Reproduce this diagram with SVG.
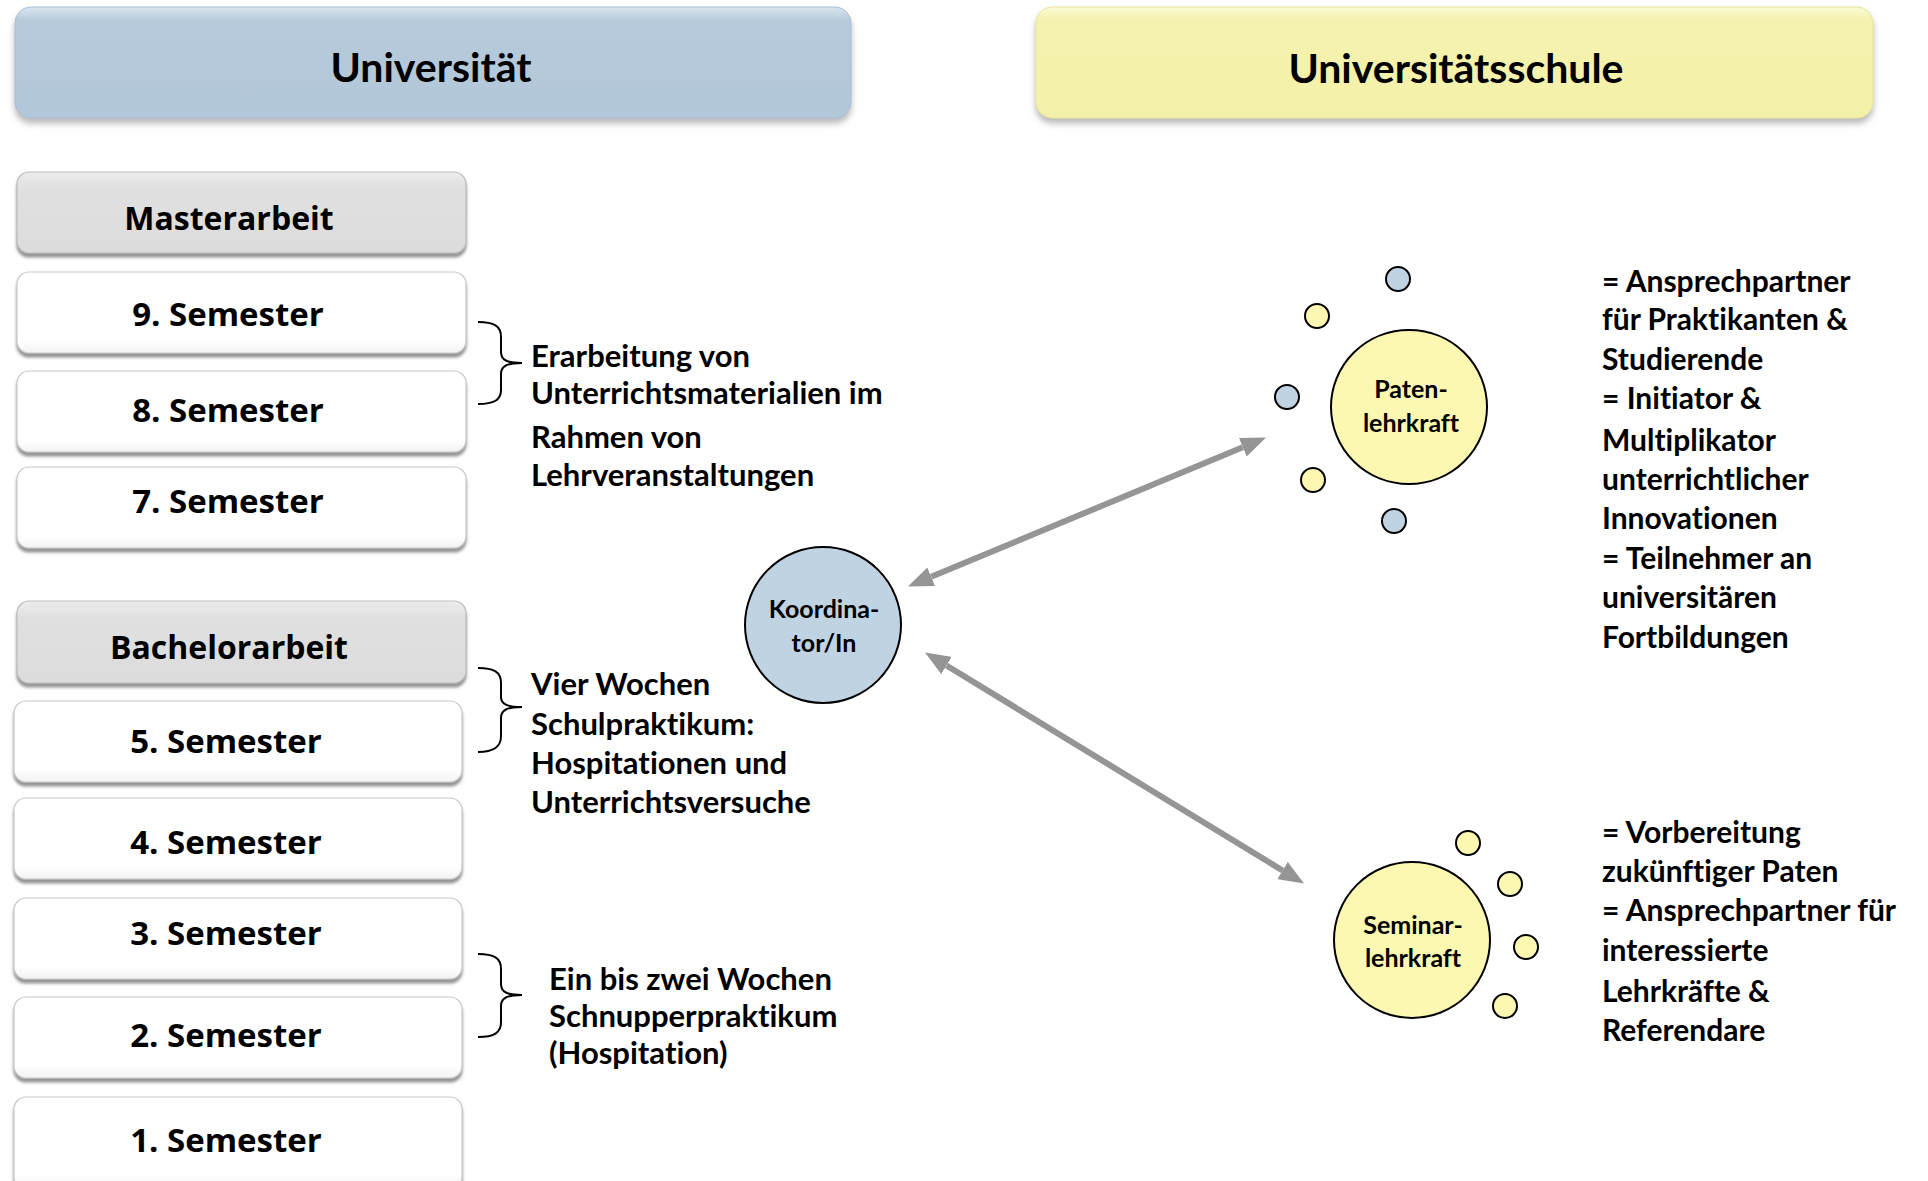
<svg xmlns="http://www.w3.org/2000/svg" width="1928" height="1181" viewBox="0 0 1928 1181">
<style>
text{font-variant-ligatures:none}
.box{fill:url(#gWhite);stroke:#c9c9c9;stroke-width:1.2;filter:url(#shBox)}
.gbox{fill:url(#gGray);stroke:#bdbdbd;stroke-width:1.2;filter:url(#shBox)}
.bt{font-family:"Open Sans","DejaVu Sans",sans-serif;font-weight:700;font-size:33px;fill:#000;text-anchor:middle}
.bt2{font-family:"Open Sans","DejaVu Sans",sans-serif;font-weight:700;font-size:32px;fill:#000;text-anchor:middle}
.ht{font-family:Lato,"Liberation Sans",sans-serif;font-weight:700;font-size:41px;fill:#000;text-anchor:middle}
.tx{font-family:Lato,"Liberation Sans",sans-serif;font-weight:700;font-size:31px;fill:#000}
.rx{font-family:Lato,"Liberation Sans",sans-serif;font-weight:700;font-size:30px;fill:#000}
.ct{font-family:Lato,"Liberation Sans",sans-serif;font-weight:700;font-size:25px;fill:#000;text-anchor:middle}
.brace{fill:none;stroke:#000;stroke-width:2}
.blue{fill:#c0d3e3;stroke:#000;stroke-width:2}
.yel{fill:#fcf8b2;stroke:#000;stroke-width:2}
.conn{stroke:#959595;stroke-width:6;fill:none;marker-start:url(#ah);marker-end:url(#ah)}
</style>
<defs>
<linearGradient id="gWhite" x1="0" y1="0" x2="0" y2="1">
<stop offset="0" stop-color="#ffffff"/><stop offset="0.85" stop-color="#ffffff"/><stop offset="1" stop-color="#f2f2f2"/>
</linearGradient>
<linearGradient id="gGray" x1="0" y1="0" x2="0" y2="1">
<stop offset="0" stop-color="#ececec"/><stop offset="0.2" stop-color="#e0e0e0"/><stop offset="1" stop-color="#dcdcdc"/>
</linearGradient>
<linearGradient id="gBlue" x1="0" y1="0" x2="0" y2="1">
<stop offset="0" stop-color="#dae6f0"/><stop offset="0.12" stop-color="#b6cadb"/><stop offset="1" stop-color="#b2c7d9"/>
</linearGradient>
<linearGradient id="gYel" x1="0" y1="0" x2="0" y2="1">
<stop offset="0" stop-color="#fbfbd6"/><stop offset="0.12" stop-color="#f4f2ad"/><stop offset="1" stop-color="#f3f1a9"/>
</linearGradient>
<filter id="shBox" x="-5%" y="-10%" width="110%" height="130%">
<feDropShadow dx="0" dy="4" stdDeviation="1.6" flood-color="#707070" flood-opacity="0.75"/>
</filter>
<filter id="shHead" x="-5%" y="-10%" width="110%" height="130%">
<feDropShadow dx="0" dy="5" stdDeviation="3" flood-color="#8a8a8a" flood-opacity="0.6"/>
</filter>
<marker id="ah" viewBox="0 0 10 8" refX="0" refY="4" markerWidth="4.2" markerHeight="3.4" orient="auto-start-reverse" markerUnits="strokeWidth">
<path d="M0,0 L10,4 L0,8 Z" fill="#959595"/>
</marker>
</defs>

<g id="header-universitaet">
<rect x="15" y="7" width="836" height="111" rx="16" fill="url(#gBlue)" stroke="#a9bfd2" stroke-width="1" filter="url(#shHead)"/>
<text class="ht" x="431" y="82">Universität</text>
</g>
<g id="header-universitaetsschule">
<rect x="1036" y="7" width="837" height="111" rx="16" fill="url(#gYel)" stroke="#e6e49c" stroke-width="1" filter="url(#shHead)"/>
<text class="ht" x="1456" y="83">Universitätsschule</text>
</g>

<g id="masterarbeit"><rect class="gbox" x="17" y="172" width="449" height="81" rx="12"/><text class="bt2" x="229" y="230">Masterarbeit</text></g>
<g id="semester-9"><rect class="box" x="17" y="272" width="449" height="81" rx="12"/><text class="bt" x="228" y="326">9. Semester</text></g>
<g id="semester-8"><rect class="box" x="17" y="371" width="449" height="81" rx="12"/><text class="bt" x="228" y="422">8. Semester</text></g>
<g id="semester-7"><rect class="box" x="17" y="467" width="449" height="81" rx="12"/><text class="bt" x="228" y="513">7. Semester</text></g>
<g id="bachelorarbeit"><rect class="gbox" x="17" y="601" width="449" height="82" rx="12"/><text class="bt2" x="229" y="659">Bachelorarbeit</text></g>
<g id="semester-5"><rect class="box" x="14" y="701" width="448" height="81" rx="12"/><text class="bt" x="226" y="753">5. Semester</text></g>
<g id="semester-4"><rect class="box" x="14" y="798" width="448" height="81" rx="12"/><text class="bt" x="226" y="854">4. Semester</text></g>
<g id="semester-3"><rect class="box" x="14" y="898" width="448" height="81" rx="12"/><text class="bt" x="226" y="945">3. Semester</text></g>
<g id="semester-2"><rect class="box" x="14" y="997" width="448" height="81" rx="12"/><text class="bt" x="226" y="1047">2. Semester</text></g>
<g id="semester-1"><rect class="box" x="14" y="1097" width="448" height="92" rx="12"/><text class="bt" x="226" y="1152">1. Semester</text></g>

<g id="note-erarbeitung">
<path class="brace" d="M478,322 C494,322 501,326 501,337 L501,352 C501,360 507,363 522,363 C507,363 501,366 501,374 L501,390 C501,400 494,404 478,404"/>
<text class="tx" x="531" y="367">Erarbeitung von</text>
<text class="tx" x="531" y="404">Unterrichtsmaterialien im</text>
<text class="tx" x="531" y="448">Rahmen von</text>
<text class="tx" x="531" y="486">Lehrveranstaltungen</text>
</g>
<g id="note-schulpraktikum">
<path class="brace" d="M478,668 C494,668 501,672 501,683 L501,697 C501,704 507,707 522,707 C507,707 501,710 501,718 L501,736 C501,747 494,752 478,752"/>
<text class="tx" x="531" y="695">Vier Wochen</text>
<text class="tx" x="531" y="735">Schulpraktikum:</text>
<text class="tx" x="531" y="774">Hospitationen und</text>
<text class="tx" x="531" y="813">Unterrichtsversuche</text>
</g>
<g id="note-schnupperpraktikum">
<path class="brace" d="M478,954 C494,954 501,958 501,969 L501,984 C501,992 507,995 522,995 C507,995 501,998 501,1006 L501,1022 C501,1033 494,1037 478,1037"/>
<text class="tx" x="549" y="990">Ein bis zwei Wochen</text>
<text class="tx" x="549" y="1027">Schnupperpraktikum</text>
<text class="tx" x="549" y="1064">(Hospitation)</text>
</g>

<g id="connectors">
<path class="conn" d="M931.2,576.8 L1242.8,447.2"/>
<path class="conn" d="M946.5,665.5 L1282.5,870.5"/>
</g>

<g id="koordinator">
<circle class="blue" cx="823" cy="625" r="78"/>
<text class="ct" x="824" y="618">Koordina-</text>
<text class="ct" x="824" y="652">tor/In</text>
</g>

<g id="patenlehrkraft">
<ellipse class="yel" cx="1409" cy="407" rx="78" ry="77"/>
<text class="ct" x="1411" y="398">Paten-</text>
<text class="ct" x="1411" y="432">lehrkraft</text>
</g>
<g id="paten-satellites">
<circle class="blue" cx="1398" cy="279" r="12"/>
<circle class="yel" cx="1317" cy="316" r="12"/>
<circle class="blue" cx="1287" cy="397" r="12"/>
<circle class="yel" cx="1313" cy="480" r="12"/>
<circle class="blue" cx="1394" cy="521" r="12"/>
</g>
<g id="paten-text">
<text class="rx" x="1602" y="292">= Ansprechpartner</text>
<text class="rx" x="1602" y="330">für Praktikanten &amp;</text>
<text class="rx" x="1602" y="370">Studierende</text>
<text class="rx" x="1602" y="409">= Initiator &amp;</text>
<text class="rx" x="1602" y="451">Multiplikator</text>
<text class="rx" x="1602" y="490">unterrichtlicher</text>
<text class="rx" x="1602" y="529">Innovationen</text>
<text class="rx" x="1602" y="569">= Teilnehmer an</text>
<text class="rx" x="1602" y="608">universitären</text>
<text class="rx" x="1602" y="648">Fortbildungen</text>
</g>

<g id="seminarlehrkraft">
<circle class="yel" cx="1412" cy="940" r="78"/>
<text class="ct" x="1413" y="934">Seminar-</text>
<text class="ct" x="1413" y="967">lehrkraft</text>
</g>
<g id="seminar-satellites">
<circle class="yel" cx="1468" cy="843" r="12"/>
<circle class="yel" cx="1510" cy="884" r="12"/>
<circle class="yel" cx="1526" cy="947" r="12"/>
<circle class="yel" cx="1505" cy="1006" r="12"/>
</g>
<g id="seminar-text">
<text class="rx" x="1602" y="843">= Vorbereitung</text>
<text class="rx" x="1602" y="882">zukünftiger Paten</text>
<text class="rx" x="1602" y="921">= Ansprechpartner für</text>
<text class="rx" x="1602" y="961">interessierte</text>
<text class="rx" x="1602" y="1002">Lehrkräfte &amp;</text>
<text class="rx" x="1602" y="1041">Referendare</text>
</g>
</svg>
